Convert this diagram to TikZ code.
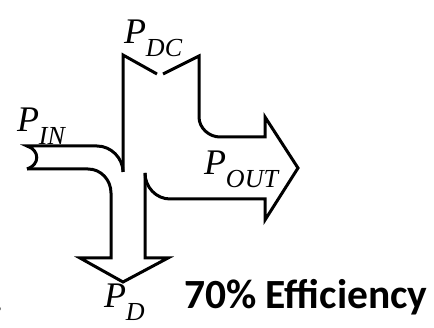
\documentclass[tikz,border=0pt]{standalone}
\usepackage{fontspec}
\setmainfont{Liberation Serif}
\newfontfamily\effont{Carlito}
\newcommand{\plab}[2]{{\fontsize{36}{36}\selectfont\itshape P}\raisebox{-13pt}{\fontsize{26}{26}\selectfont\itshape #2}}
\begin{document}
\begin{tikzpicture}[x=1pt,y=-1pt,
  flow/.style={line width=3pt,line join=miter,black},
  lab/.style={anchor=base west,inner sep=0pt,outer sep=0pt}]
\useasboundingbox (0,0) rectangle (434,328);
% input tail and upper part
\draw[flow] (27,169) .. controls (40,165) and (40,150) .. (27,146)
  -- (97,146) .. controls (111,146) and (123,158) .. (123,172);
\draw[flow] (123,172) -- (123,55) -- (157,74);
% DC inlet right side, output arrow and dissipation arrow
\draw[flow] (163,74) -- (199,56) -- (199,117)
  .. controls (199,128) and (209,137) .. (220,137)
  -- (265,137) -- (265,117) -- (298,168) -- (265,220) -- (265,199)
  -- (170,199) .. controls (156,199) and (145,187) .. (145,173);
\draw[flow] (145,173) -- (145,258) -- (168,258) -- (123,282) -- (80,258)
  -- (111,258) -- (111,193) .. controls (111,180) and (101,169) .. (88,169)
  -- (27,169);
% labels
\node[lab] (pdc) at (124,44) {\plab{P}{DC}};
\node[lab] (pin) at (17,132) {\plab{P}{IN}};
\node[lab] (pout) at (204,175) {\plab{P}{OUT}};
\node[lab] (pd) at (104,308) {\plab{P}{D}};
\node[lab] (eff) at (184,309) {\effont\bfseries\fontsize{41.5}{41.5}\selectfont 70\% Efficiency};
\node[lab] (frag) at (-9,312) {\effont\fontsize{14}{14}\selectfont\%};
\end{tikzpicture}
\end{document}
